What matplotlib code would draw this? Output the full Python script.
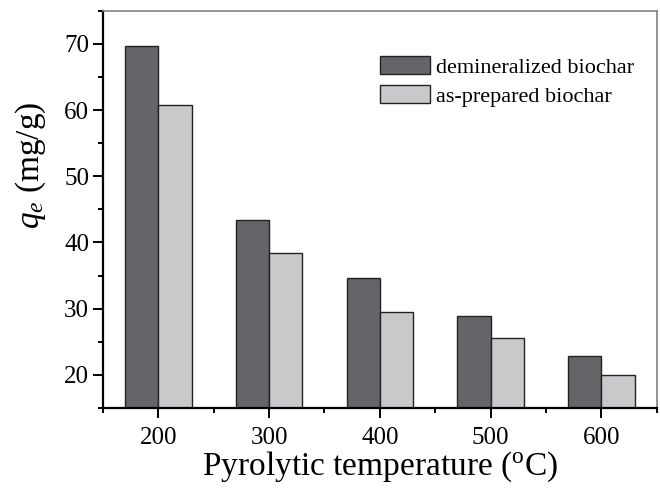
import numpy as np
import matplotlib
matplotlib.use("Agg")
import matplotlib.pyplot as plt

plt.rcParams['font.family'] = ['Liberation Serif', 'DejaVu Serif']
plt.rcParams['mathtext.fontset'] = 'custom'
plt.rcParams['mathtext.rm'] = 'Liberation Serif'
plt.rcParams['mathtext.it'] = 'Liberation Serif:italic'

temps = [200, 300, 400, 500, 600]
demineralized = [69.6, 43.4, 34.7, 28.9, 22.8]
as_prepared = [60.8, 38.4, 29.5, 25.6, 20.0]
series_labels = ['demineralized biochar', 'as-prepared biochar']

dark = '#646469'
light = '#c9c9cb'
width = 30

fig = plt.figure(figsize=(6.6, 4.88), dpi=100)
ax = fig.add_axes([0.156, 0.164, 0.839, 0.814])

x = np.array(temps)
ax.bar(x - width / 2, demineralized, width, color=dark, edgecolor='#222222',
       linewidth=1.0, label=series_labels[0])
ax.bar(x + width / 2, as_prepared, width, color=light, edgecolor='#222222',
       linewidth=1.0, label=series_labels[1])

ax.set_xlim(150, 650)
ax.set_ylim(15, 75)
ax.set_xticks(temps)
ax.set_xticks([150, 250, 350, 450, 550, 650], minor=True)
ax.set_yticks([20, 30, 40, 50, 60, 70])
ax.set_yticks([15, 25, 35, 45, 55, 65, 75], minor=True)

ax.tick_params(which='major', direction='out', length=7, width=1.4, labelsize=18, pad=3)
ax.tick_params(which='minor', direction='out', length=3.8, width=1.4)
ax.tick_params(axis='x', which='major', pad=7)

for s in ['left', 'bottom']:
    ax.spines[s].set_linewidth(1.6)
    ax.spines[s].set_color('black')
for s in ['top', 'right']:
    ax.spines[s].set_linewidth(1.2)
    ax.spines[s].set_color('#808080')

ax.set_xlabel(r'Pyrolytic temperature ($^{\mathrm{o}}$C)', fontsize=24, labelpad=0)
ax.set_ylabel(r'$q_e$ (mg/g)', fontsize=24)
ax.yaxis.set_label_coords(-0.10, 0.61)

ax.legend(loc='upper left', bbox_to_anchor=(0.5, 0.885), frameon=False, fontsize=16,
          borderpad=0, borderaxespad=0, handlelength=2.25, handleheight=0.85,
          handletextpad=0.3, labelspacing=0.33)

fig.savefig('out.png', dpi=100)
